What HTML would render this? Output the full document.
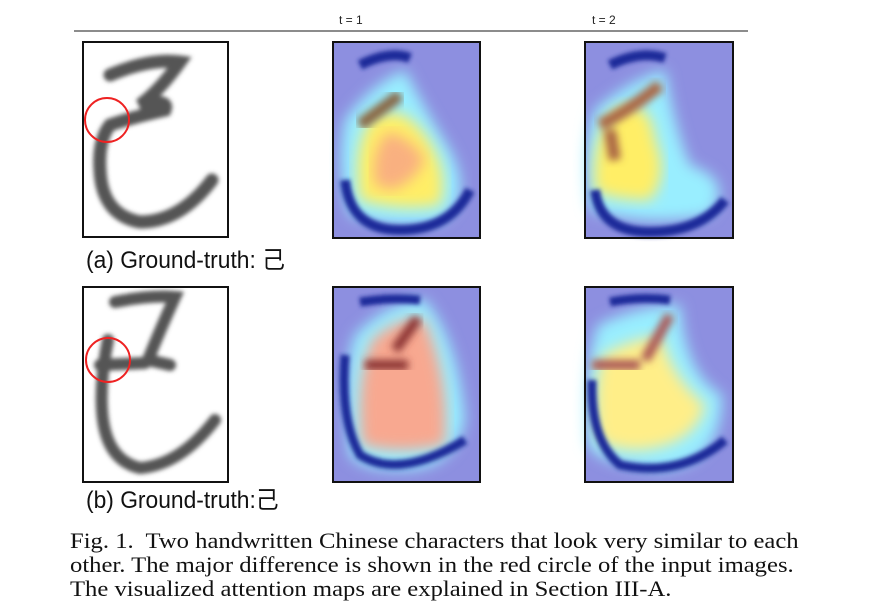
<!DOCTYPE html>
<html><head><meta charset="utf-8"><style>
body{margin:0;background:#fff;width:872px;height:616px;overflow:hidden;position:relative;font-family:"Liberation Sans","Noto Sans CJK SC",sans-serif}
.t{position:absolute;font-size:12px;color:#222}
.lab{position:absolute;font-size:24px;color:#111;font-family:"Liberation Sans","Noto Sans CJK SC",sans-serif;transform-origin:0 0;transform:scaleX(0.95);white-space:nowrap}
.cap{position:absolute;left:70px;font-family:"Liberation Serif","Noto Serif CJK SC",serif;font-size:22px;color:#111;white-space:nowrap;transform-origin:0 0;transform:scaleX(1.12)}
</style></head><body>
<svg width="872" height="616" style="position:absolute;left:0;top:0">
<defs>
<filter id="b2"><feGaussianBlur stdDeviation="2"/></filter>
<filter id="b6"><feGaussianBlur stdDeviation="7"/></filter>
<filter id="b4"><feGaussianBlur stdDeviation="4"/></filter>
</defs>
<line x1="74" y1="31" x2="748" y2="31" stroke="#666" stroke-width="1.5"/>
<g>
<rect x="83" y="42" width="145" height="195" fill="#fff"/>
<path d="M110,75 Q150,58 180,62 Q160,90 140,105 Q170,98 165,110 Q130,118 110,125 Q98,140 100,170 Q102,215 140,222 Q180,222 212,180" fill="none" stroke="#555" stroke-width="13" stroke-linecap="round" filter="url(#b2)"/>
<rect x="83" y="42" width="145" height="195" fill="none" stroke="#111" stroke-width="2"/>
<ellipse cx="107" cy="120" rx="22" ry="22" fill="none" stroke="#e22" stroke-width="2"/>
</g>
<g>
<rect x="333" y="42" width="147" height="196" fill="#8d8fe0"/>
<path d="M350,215 Q335,170 345,120 Q370,85 405,70 Q425,110 450,150 Q475,200 440,222 Q390,230 350,215Z" fill="#9ef" filter="url(#b6)"/>
<path d="M360,200 Q352,150 370,120 Q400,100 425,135 Q450,170 440,205 Q400,212 360,200Z" fill="#fe6" filter="url(#b6)"/>
<path d="M375,185 Q370,150 388,132 Q412,138 425,160 Q412,185 390,190Z" fill="#f9b080" filter="url(#b6)"/>
<path d="M400,95 L360,125" stroke="#864" stroke-width="12" filter="url(#b4)"/>
<path d="M360,65 Q390,50 410,58 M345,180 Q350,230 400,230 Q450,230 470,190" fill="none" stroke="#1a2a9a" stroke-width="10" filter="url(#b2)"/>
<rect x="333" y="42" width="147" height="196" fill="none" stroke="#111" stroke-width="2"/>
</g>
<g>
<rect x="585" y="42" width="148" height="196" fill="#8d8fe0"/>
<path d="M590,210 Q580,150 595,110 Q630,80 665,70 Q675,130 690,165 Q735,180 710,215 Q650,228 590,210Z" fill="#9ef" filter="url(#b6)"/>
<path d="M595,190 Q590,140 615,110 Q650,95 655,140 Q670,175 650,200 Q610,200 595,190Z" fill="#fe6" filter="url(#b6)"/>
<path d="M600,125 Q630,110 660,85 M610,130 L615,160" stroke="#a64" stroke-width="12" fill="none" filter="url(#b4)"/>
<path d="M610,65 Q640,50 665,58 M595,190 Q600,232 650,232 Q700,232 725,200" fill="none" stroke="#1a2a9a" stroke-width="10" filter="url(#b2)"/>
<rect x="585" y="42" width="148" height="196" fill="none" stroke="#111" stroke-width="2"/>
</g>
<g>
<rect x="83" y="287" width="145" height="195" fill="#fff"/>
<path d="M115,302 Q150,295 175,297 Q160,330 148,360 L170,365 M100,365 L145,363 M108,340 Q100,380 102,410 Q105,460 140,468 Q180,465 215,420" fill="none" stroke="#555" stroke-width="12" stroke-linecap="round" filter="url(#b2)"/>
<rect x="83" y="287" width="145" height="195" fill="none" stroke="#111" stroke-width="2"/>
<ellipse cx="108" cy="360" rx="22" ry="22" fill="none" stroke="#e22" stroke-width="2"/>
</g>
<g>
<rect x="333" y="287" width="147" height="195" fill="#8d8fe0"/>
<path d="M350,455 Q340,380 355,335 Q390,300 425,300 Q458,340 465,420 Q455,470 400,470 Q362,470 350,455Z" fill="#9ef" filter="url(#b6)"/>
<path d="M362,445 Q355,380 372,340 Q400,315 425,320 Q450,380 445,445 Q400,455 362,445Z" fill="#f8a890" filter="url(#b6)"/>
<path d="M418,318 L395,350 M365,365 L408,365" stroke="#833" stroke-width="10" fill="none" filter="url(#b4)"/>
<path d="M360,302 Q390,297 420,300 M345,355 Q340,420 360,455 Q400,480 465,440" fill="none" stroke="#1a2a9a" stroke-width="9" filter="url(#b2)"/>
<rect x="333" y="287" width="147" height="195" fill="none" stroke="#111" stroke-width="2"/>
</g>
<g>
<rect x="585" y="287" width="148" height="195" fill="#8d8fe0"/>
<path d="M588,445 Q582,370 598,325 Q640,305 680,305 Q685,375 722,395 Q722,465 660,470 Q600,465 588,445Z" fill="#9ef" filter="url(#b6)"/>
<path d="M598,435 Q592,390 603,355 Q640,335 662,338 Q672,378 705,405 Q695,445 640,450 Q603,450 598,435Z" fill="#fe8" filter="url(#b6)"/>
<path d="M592,365 L640,365 M670,315 L645,360" stroke="#a55" stroke-width="10" fill="none" filter="url(#b4)"/>
<path d="M610,302 Q640,296 670,300 M592,380 Q590,440 620,465 Q680,478 725,440" fill="none" stroke="#1a2a9a" stroke-width="9" filter="url(#b2)"/>
<rect x="585" y="287" width="148" height="195" fill="none" stroke="#111" stroke-width="2"/>
</g>
</svg>
<div class="t" style="left:339px;top:13px">t = 1</div>
<div class="t" style="left:592px;top:13px">t = 2</div>
<div class="lab" style="left:86px;top:240px">(a) Ground-truth: 己</div>
<div class="lab" style="left:86px;top:480px">(b) Ground-truth:己</div>
<div class="cap" style="top:528px">Fig. 1.&nbsp; Two handwritten Chinese characters that look very similar to each</div>
<div class="cap" style="top:552px">other. The major difference is shown in the red circle of the input images.</div>
<div class="cap" style="top:576px">The visualized attention maps are explained in Section III-A.</div>
</body></html>
